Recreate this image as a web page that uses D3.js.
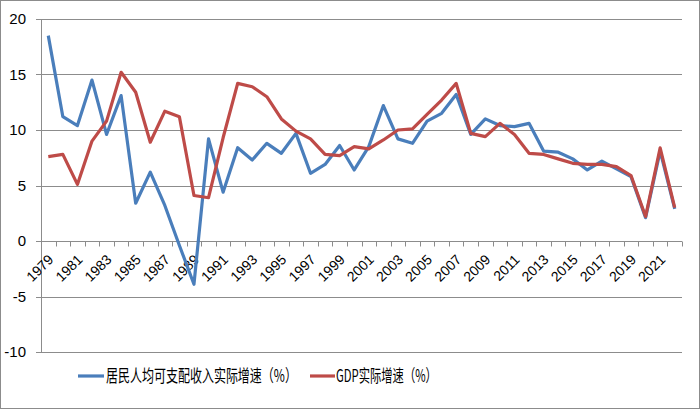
<!DOCTYPE html>
<html><head><meta charset="utf-8">
<script src="https://cdn.jsdelivr.net/npm/d3@7"></script>
<style>body{margin:0;background:#fff}svg{display:block}</style>
</head><body><svg id="c" width="700" height="409"></svg>
<script>
const years = d3.range(1979, 2023).map(String);
const income = [18.5,11.2,10.4,14.5,9.6,13.1,3.4,6.2,3.2,-0.4,-3.9,9.2,4.4,8.4,7.3,8.8,7.9,9.7,6.1,6.9,8.6,6.4,8.5,12.2,9.2,8.8,10.8,11.5,13.2,9.6,11.0,10.4,10.3,10.6,8.1,8.0,7.4,6.4,7.2,6.5,5.8,2.1,8.1,2.9];
const gdp = [7.6,7.8,5.1,9.0,10.8,15.2,13.4,8.9,11.7,11.2,4.1,3.9,9.3,14.2,13.9,13.0,11.0,9.9,9.2,7.8,7.7,8.5,8.3,9.1,10.0,10.1,11.4,12.7,14.2,9.7,9.4,10.6,9.6,7.9,7.8,7.4,7.0,6.9,6.9,6.7,5.9,2.2,8.4,3.0];
const yTicks = [-10,-5,0,5,10,15,20];
const seriesNames = ["居民人均可支配收入实际增速（%）","GDP实际增速（%）"];
const colors = ["#4A7EBB","#BE4B48"];

const svg = d3.select("#c");
svg.append("rect").attr("x",0.5).attr("y",0.5).attr("width",699).attr("height",408)
  .attr("fill","#fff").attr("stroke","#8c8c8c");

const L=41, R=682, T=19, B=352;
const x = d3.scaleBand().domain(years).range([L,R]);
const y = d3.scaleLinear().domain([-10,20]).range([B,T]);
const font = "'Liberation Sans', Arial, sans-serif";

// gridlines
svg.append("g").selectAll("line").data(yTicks).join("line")
  .attr("x1",L-5).attr("x2",R).attr("y1",d=>Math.round(y(d))+0.5).attr("y2",d=>Math.round(y(d))+0.5)
  .attr("stroke","#8c8c8c").attr("stroke-width",1);
// y axis line
svg.append("line").attr("x1",L+0.5).attr("x2",L+0.5).attr("y1",T).attr("y2",B)
  .attr("stroke","#8c8c8c");
// y labels
svg.append("g").selectAll("text").data(yTicks).join("text")
  .attr("x",26).attr("y",d=>y(d)+5).attr("text-anchor","end")
  .attr("font-family",font).attr("font-size",15).attr("fill","#000").text(d=>d);

// x axis ticks at zero line
const y0 = Math.round(y(0))+0.5;
const bounds = years.map(d=>x(d)).concat([R]);
svg.append("g").selectAll("line").data(bounds).join("line")
  .attr("x1",d=>Math.round(d)+0.5).attr("x2",d=>Math.round(d)+0.5).attr("y1",y0).attr("y2",y0+5)
  .attr("stroke","#8c8c8c");
// x labels
svg.append("g").selectAll("text").data(years.filter((d,i)=>i%2===0)).join("text")
  .attr("transform",d=>`translate(${x(d)+x.bandwidth()/2+6},${y0+19}) rotate(-45)`)
  .attr("text-anchor","end").attr("font-family",font).attr("font-size",14).attr("fill","#000").text(d=>d);

// lines
const line = d3.line().x((d,i)=>x(years[i])+x.bandwidth()/2).y(d=>y(d));
[income,gdp].forEach((s,k)=>{
  svg.append("path").datum(s).attr("d",line).attr("fill","none")
    .attr("stroke",colors[k]).attr("stroke-width",3.2).attr("stroke-linejoin","round");
});

// legend (condensed font emulated by horizontal scaling)
const leg = [{x1:78,x2:104,tx:106,w:191},{x1:310,x2:335,tx:336,w:101}];
leg.forEach((l,k)=>{
  svg.append("line").attr("x1",l.x1).attr("x2",l.x2).attr("y1",376).attr("y2",376)
    .attr("stroke",colors[k]).attr("stroke-width",3.2);
  const t = svg.append("text").attr("x",0).attr("y",0).attr("font-family","'Noto Sans CJK SC', sans-serif")
    .attr("font-size",17).attr("fill","#000").text(seriesNames[k]);
  const nat = t.node().getComputedTextLength();
  t.attr("transform",`translate(${l.tx},382) scale(${l.w/nat},1)`);
});
</script></body></html>
